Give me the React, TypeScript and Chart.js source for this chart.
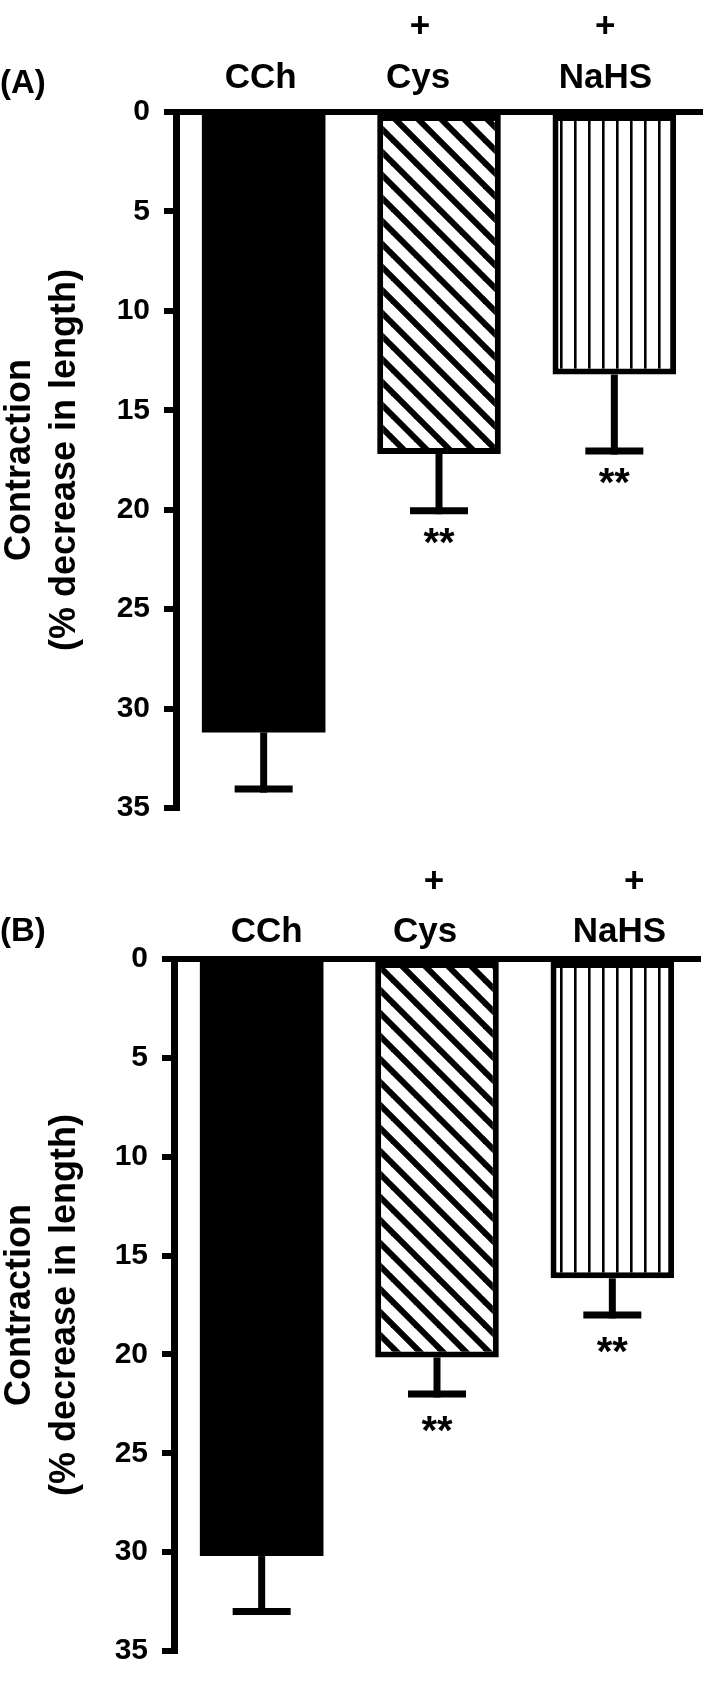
import React, { useEffect, useRef } from 'react';
import { Chart, registerables } from 'chart.js';

Chart.register(...registerables);

// ---- data ----
const categories = ['CCh', 'Cys', 'NaHS'];
const plusMarks = ['', '+', '+'];
const significance = ['', '**', '**'];
const yTickStep = 5;
const yMax = 35;
const panelAValues = [31.2, 17.2, 13.2];
const panelAErrors = [2.85, 2.85, 3.85];
const panelBValues = [30.2, 20.15, 16.15];
const panelBErrors = [2.8, 1.85, 1.85];
const yTitle = ['Contraction', '(% decrease in length)'];

const FONT = "'Liberation Sans', Arial, Helvetica, sans-serif";

function makeDiagonalPattern(): CanvasPattern | string {
  const p = 23;
  const c = document.createElement('canvas');
  c.width = p;
  c.height = p;
  const g = c.getContext('2d');
  if (!g) return '#000';
  g.fillStyle = '#fff';
  g.fillRect(0, 0, p, p);
  g.strokeStyle = '#000';
  g.lineWidth = 6;
  g.lineCap = 'butt';
  for (let k = -1; k <= 1; k++) {
    g.beginPath();
    g.moveTo(-p, -p + k * p);
    g.lineTo(2 * p, 2 * p + k * p);
    g.stroke();
  }
  return g.createPattern(c, 'repeat') || '#000';
}

function makeVerticalPattern(): CanvasPattern | string {
  const p = 14;
  const c = document.createElement('canvas');
  c.width = p;
  c.height = p;
  const g = c.getContext('2d');
  if (!g) return '#000';
  g.fillStyle = '#fff';
  g.fillRect(0, 0, p, p);
  g.fillStyle = '#000';
  g.fillRect(0, 0, 2.6, p);
  return g.createPattern(c, 'repeat') || '#000';
}

type PanelLayout = {
  height: number;
  padTop: number;
  padBottom: number;
  axisLeft: number;
  padRight: number;
  panelLabel: string;
  panelLabelY: number;
  labelY: number;
  plusY: number;
  labelDx: number[];
  plusDx: number[];
  starDy: number;
};

const layoutA: PanelLayout = {
  height: 840,
  padTop: 112,
  padBottom: 28,
  axisLeft: 176,
  padRight: 7,
  panelLabel: '(A)',
  panelLabelY: 84,
  labelY: 78,
  plusY: 27,
  labelDx: [-3, -21, -9],
  plusDx: [0, -19, -9],
  starDy: 45,
};

const layoutB: PanelLayout = {
  height: 843,
  padTop: 119,
  padBottom: 24,
  axisLeft: 174,
  padRight: 9,
  panelLabel: '(B)',
  panelLabelY: 92,
  labelY: 92,
  plusY: 42,
  labelDx: [5, -12, 7],
  plusDx: [0, -3, 22],
  starDy: 50,
};

function PanelChart({ values, errors, layout }: { values: number[]; errors: number[]; layout: PanelLayout }) {
  const ref = useRef<HTMLCanvasElement | null>(null);
  useEffect(() => {
    const canvas = ref.current;
    if (!canvas) return;
    const diag = makeDiagonalPattern();
    const vert = makeVerticalPattern();

    const decorations = {
      id: 'decorations',
      afterDatasetsDraw(chart: any) {
        const ctx = chart.ctx;
        const meta = chart.getDatasetMeta(0);
        const ys = chart.scales.y;
        ctx.save();
        ctx.strokeStyle = '#000';
        ctx.fillStyle = '#000';
        ctx.lineCap = 'butt';
        for (let i = 0; i < values.length; i++) {
          const x = meta.data[i].x;
          const y0 = ys.getPixelForValue(values[i]);
          const y1 = ys.getPixelForValue(values[i] + errors[i]);
          ctx.lineWidth = 7;
          ctx.beginPath();
          ctx.moveTo(x, y0);
          ctx.lineTo(x, y1 + 3.5);
          ctx.stroke();
          ctx.beginPath();
          ctx.moveTo(x - 29, y1);
          ctx.lineTo(x + 29, y1);
          ctx.stroke();
          if (significance[i]) {
            ctx.font = `bold 40px ${FONT}`;
            ctx.textAlign = 'center';
            ctx.textBaseline = 'alphabetic';
            ctx.fillText(significance[i], x, y1 + layout.starDy);
          }
        }
        ctx.restore();
      },
      afterDraw(chart: any) {
        const ctx = chart.ctx;
        const xs = chart.scales.x;
        ctx.save();
        ctx.fillStyle = '#000';
        ctx.textAlign = 'center';
        ctx.textBaseline = 'middle';
        ctx.font = `bold 35px ${FONT}`;
        for (let i = 0; i < categories.length; i++) {
          const x = xs.getPixelForValue(i);
          ctx.fillText(categories[i], x + layout.labelDx[i], layout.labelY);
          if (plusMarks[i]) {
            ctx.fillText(plusMarks[i], x + layout.plusDx[i], layout.plusY);
          }
        }
        ctx.textAlign = 'left';
        ctx.font = `bold 33px ${FONT}`;
        ctx.fillText(layout.panelLabel, 0, layout.panelLabelY);
        ctx.restore();
      },
    };

    const chart = new Chart(canvas, {
      type: 'bar',
      data: {
        labels: categories,
        datasets: [
          {
            data: values,
            backgroundColor: ['#000', diag as any, vert as any],
            borderColor: '#000',
            borderWidth: [0, 6, 6] as any,
            borderSkipped: false,
            barPercentage: 0.705,
            categoryPercentage: 1,
          },
        ],
      },
      options: {
        animation: false,
        responsive: false,
        maintainAspectRatio: false,
        devicePixelRatio: 1,
        layout: {
          padding: { top: layout.padTop, bottom: layout.padBottom, left: 0, right: layout.padRight },
        },
        plugins: {
          legend: { display: false },
          tooltip: { enabled: false },
        },
        scales: {
          x: {
            type: 'category',
            position: 'top',
            ticks: { display: false },
            grid: { display: false, drawTicks: false, tickLength: 0 },
            border: { display: true, width: 6, color: '#000' },
          },
          y: {
            type: 'linear',
            reverse: true,
            min: 0,
            max: yMax,
            afterFit: (s: any) => {
              s.width = layout.axisLeft;
            },
            ticks: {
              stepSize: yTickStep,
              color: '#000',
              padding: 14,
              font: { family: FONT, weight: 'bold', size: 30 },
            },
            grid: {
              display: true,
              drawOnChartArea: false,
              drawTicks: true,
              tickLength: 12,
              tickWidth: 6,
              lineWidth: 6,
              tickColor: '#000',
              color: '#000',
            },
            border: { display: true, width: 7, color: '#000' },
            title: {
              display: true,
              text: yTitle,
              color: '#000',
              padding: { top: -2, bottom: 0 },
              font: { family: FONT, weight: 'bold', size: 36, lineHeight: 1.25 },
            },
          },
        },
      },
      plugins: [decorations],
    });
    return () => chart.destroy();
  }, [values, errors, layout]);
  return <canvas ref={ref} width={709} height={layout.height} style={{ display: 'block' }} />;
}

export default function App() {
  return (
    <div style={{ position: 'absolute', left: 0, top: 0, width: 709, height: 1683, background: '#fff' }}>
      <PanelChart values={panelAValues} errors={panelAErrors} layout={layoutA} />
      <PanelChart values={panelBValues} errors={panelBErrors} layout={layoutB} />
    </div>
  );
}
